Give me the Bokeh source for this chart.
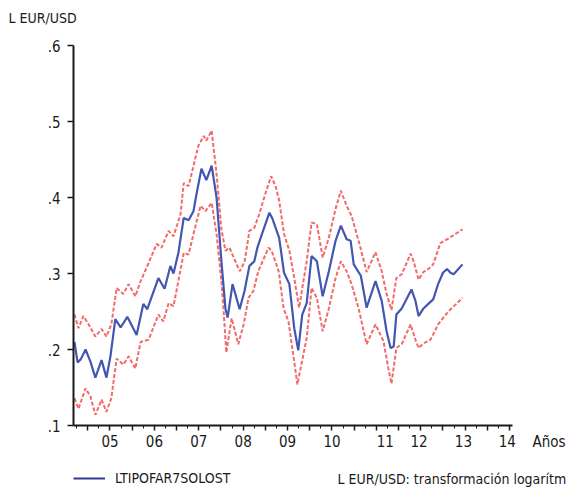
from bokeh.plotting import figure
from bokeh.layouts import column
from bokeh.models import (FixedTicker, CustomJSTickFormatter, Legend,
                          LegendItem, Range1d, LinearAxis, Label)
from bokeh.embed import file_html
from bokeh.resources import INLINE

FONT = "DejaVu Sans Condensed"

# --- data (decimal years) ---
center_x = [2004.20, 2004.27, 2004.34, 2004.45, 2004.56, 2004.67, 2004.81, 2004.92,
            2005.01, 2005.12, 2005.24, 2005.39, 2005.60, 2005.75, 2005.84, 2006.09,
            2006.23, 2006.36, 2006.43, 2006.54, 2006.66, 2006.77, 2006.88, 2006.95,
            2007.06, 2007.17, 2007.29, 2007.40, 2007.51, 2007.60, 2007.65, 2007.76,
            2007.92, 2008.03, 2008.14, 2008.25, 2008.32, 2008.43, 2008.59, 2008.66,
            2008.81, 2008.92, 2009.04, 2009.15, 2009.24, 2009.33, 2009.43, 2009.54,
            2009.66, 2009.79, 2009.93, 2010.08, 2010.20, 2010.33, 2010.42, 2010.49,
            2010.65, 2010.78, 2010.98, 2011.12, 2011.23, 2011.32, 2011.39, 2011.45,
            2011.57, 2011.66, 2011.79, 2011.88, 2011.95, 2012.06, 2012.17, 2012.28,
            2012.39, 2012.50, 2012.59, 2012.67, 2012.74, 2012.94]
center_y = [0.210, 0.183, 0.187, 0.200, 0.184, 0.163, 0.186, 0.163,
            0.191, 0.240, 0.229, 0.243, 0.219, 0.260, 0.253, 0.294,
            0.280, 0.310, 0.300, 0.327, 0.373, 0.370, 0.382, 0.405,
            0.438, 0.423, 0.442, 0.400, 0.316, 0.254, 0.242, 0.286,
            0.253, 0.277, 0.310, 0.316, 0.334, 0.353, 0.380, 0.372,
            0.347, 0.301, 0.286, 0.228, 0.199, 0.246, 0.261, 0.323,
            0.316, 0.270, 0.303, 0.343, 0.363, 0.345, 0.343, 0.312,
            0.297, 0.255, 0.290, 0.264, 0.224, 0.202, 0.204, 0.246,
            0.254, 0.264, 0.279, 0.264, 0.244, 0.254, 0.260, 0.266,
            0.286, 0.301, 0.306, 0.301, 0.299, 0.312]

upper_x = [2004.20, 2004.29, 2004.40, 2004.52, 2004.67, 2004.81, 2004.92, 2005.03,
           2005.15, 2005.30, 2005.42, 2005.57, 2005.69, 2005.82, 2006.05, 2006.16,
           2006.32, 2006.43, 2006.59, 2006.66, 2006.77, 2006.99, 2007.11, 2007.17,
           2007.29, 2007.40, 2007.51, 2007.60, 2007.69, 2007.92, 2008.03, 2008.14,
           2008.25, 2008.36, 2008.52, 2008.63, 2008.74, 2008.81, 2008.92, 2009.04,
           2009.15, 2009.26, 2009.43, 2009.54, 2009.66, 2009.79, 2009.93, 2010.08,
           2010.20, 2010.33, 2010.44, 2010.60, 2010.78, 2010.98, 2011.12, 2011.23,
           2011.34, 2011.45, 2011.57, 2011.77, 2011.84, 2011.95, 2012.06, 2012.17,
           2012.28, 2012.44, 2012.62, 2012.94]
upper_y = [0.246, 0.228, 0.244, 0.233, 0.217, 0.227, 0.217, 0.233,
           0.281, 0.273, 0.286, 0.270, 0.290, 0.307, 0.339, 0.334,
           0.356, 0.349, 0.378, 0.419, 0.415, 0.468, 0.481, 0.475,
           0.488, 0.431, 0.358, 0.330, 0.334, 0.303, 0.315, 0.356,
           0.360, 0.378, 0.409, 0.428, 0.413, 0.396, 0.352, 0.330,
           0.294, 0.255, 0.316, 0.367, 0.365, 0.321, 0.347, 0.385,
           0.409, 0.389, 0.376, 0.343, 0.302, 0.328, 0.303, 0.273,
           0.252, 0.294, 0.299, 0.326, 0.316, 0.292, 0.302, 0.306,
           0.312, 0.340, 0.346, 0.358]

lower_x = [2004.20, 2004.29, 2004.45, 2004.56, 2004.67, 2004.81, 2004.92, 2005.03,
           2005.15, 2005.30, 2005.42, 2005.57, 2005.69, 2005.87, 2006.09, 2006.20,
           2006.32, 2006.43, 2006.54, 2006.66, 2006.77, 2006.88, 2007.04, 2007.15,
           2007.29, 2007.40, 2007.51, 2007.56, 2007.62, 2007.74, 2007.89, 2008.01,
           2008.12, 2008.23, 2008.34, 2008.57, 2008.64, 2008.80, 2008.91, 2009.02,
           2009.14, 2009.22, 2009.43, 2009.54, 2009.66, 2009.79, 2009.93, 2010.08,
           2010.20, 2010.33, 2010.44, 2010.60, 2010.78, 2010.98, 2011.16, 2011.27,
           2011.34, 2011.45, 2011.57, 2011.77, 2011.88, 2011.95, 2012.06, 2012.22,
           2012.39, 2012.62, 2012.94]
lower_y = [0.136, 0.122, 0.149, 0.138, 0.114, 0.134, 0.118, 0.136,
           0.188, 0.180, 0.191, 0.175, 0.210, 0.213, 0.246, 0.237,
           0.261, 0.257, 0.290, 0.327, 0.325, 0.352, 0.389, 0.382,
           0.393, 0.352, 0.290, 0.250, 0.196, 0.241, 0.207, 0.233,
           0.268, 0.277, 0.303, 0.334, 0.330, 0.303, 0.254, 0.237,
           0.188, 0.154, 0.215, 0.281, 0.268, 0.224, 0.254, 0.294,
           0.316, 0.303, 0.286, 0.254, 0.207, 0.233, 0.211, 0.175,
           0.155, 0.202, 0.207, 0.233, 0.213, 0.202, 0.208, 0.213,
           0.233, 0.250, 0.268]

# x tick labels and where they sit on the time scale (as in the original)
year_labels = ["05", "06", "07", "08", "09", "10", "11", "12", "13", "14"]
year_label_pos = [2005.0, 2006.0, 2007.0, 2008.0, 2009.0, 2010.0, 2011.2,
                  2011.96, 2012.96, 2013.95]
y_ticks = [0.1, 0.2, 0.3, 0.4, 0.5, 0.6]
y_labels = [".1", ".2", ".3", ".4", ".5", ".6"]

series_name = "LTIPOFAR7SOLOST"
y_title = "L EUR/USD"
x_title = "Años"
x_title_pos = 2014.887
note_text = "L EUR/USD: transformación logarítmica"

TXT = "#1a1a1a"
BLUE = "#4356b1"
KEY_BLUE = "#2e3a96"
RED = "#f26a6a"

axis_start, axis_end = 2004.178, 2014.065
frame_end = 2015.282

# --- top strip: y-axis title ---
top = figure(width=566, height=30, output_backend="svg", toolbar_location=None,
             x_axis_type=None, y_axis_type=None, min_border=0, frame_align=False,
             x_range=Range1d(0, 1), y_range=Range1d(0, 1))
top.outline_line_color = None
top.grid.visible = False
top.add_layout(Label(x=8, y=13, x_units="screen", y_units="screen", text=y_title,
                     text_baseline="middle", text_font=FONT, text_font_size="14px",
                     text_color=TXT))

# --- main chart ---
p = figure(width=566, height=431, output_backend="svg", toolbar_location=None,
           x_range=Range1d(axis_start, frame_end), y_range=Range1d(0.1, 0.6),
           min_border_left=73, min_border_right=0, min_border_top=15,
           min_border_bottom=36, frame_align=False)
p.outline_line_color = None
p.grid.visible = False
p.background_fill_color = "white"

half_ticks = [2004.5 + 0.5 * k for k in range(20)]
quarter_ticks = [2004.25 + 0.25 * k for k in range(40)]

# x axis: line and tick marks only
xa = p.xaxis[0]
xa.bounds = (axis_start, axis_end)
xa.ticker = FixedTicker(ticks=half_ticks, minor_ticks=quarter_ticks)
xa.formatter = CustomJSTickFormatter(code="return '';")
xa.major_tick_in = 0
xa.major_tick_out = 5
xa.minor_tick_in = 0
xa.minor_tick_out = 3
xa.major_label_standoff = 0
xa.major_label_text_font_size = "1px"
xa.axis_line_width = 2
xa.axis_line_color = TXT
xa.major_tick_line_color = TXT
xa.minor_tick_line_color = TXT
xa.major_tick_line_width = 1.5

# year labels and "Años": a second, line-less axis stacked right under it
xl = LinearAxis(ticker=FixedTicker(ticks=year_label_pos + [x_title_pos], minor_ticks=[]),
                formatter=CustomJSTickFormatter(args=dict(labels=year_labels + [x_title]),
                                                code="return labels[index];"),
                axis_line_color=None, major_tick_line_color=None,
                minor_tick_line_color=None, major_tick_in=0, major_tick_out=0,
                minor_tick_in=0, minor_tick_out=0, major_label_standoff=2,
                major_label_text_font=FONT, major_label_text_font_size="15px",
                major_label_text_color=TXT)
p.add_layout(xl, "below")

ya = p.yaxis[0]
ya.ticker = FixedTicker(ticks=y_ticks, minor_ticks=[])
ya.formatter = CustomJSTickFormatter(args=dict(labels=y_labels),
                                     code="return labels[index];")
ya.major_tick_in = 0
ya.major_tick_out = 6
ya.major_label_standoff = 7
ya.axis_line_width = 2
ya.axis_line_color = TXT
ya.major_tick_line_color = TXT
ya.major_tick_line_width = 1.5
ya.major_label_text_font = FONT
ya.major_label_text_font_size = "15px"
ya.major_label_text_color = TXT

p.line(upper_x, upper_y, line_color=RED, line_width=2, line_dash="4 2")
p.line(lower_x, lower_y, line_color=RED, line_width=2, line_dash="4 2")
p.line(center_x, center_y, line_color=BLUE, line_width=2.2)

# --- bottom strip: legend ---
q = figure(width=566, height=30, output_backend="svg", toolbar_location=None,
           x_axis_type=None, y_axis_type=None, min_border=0, frame_align=False,
           x_range=Range1d(0, 1), y_range=Range1d(0, 1))
q.outline_line_color = None
q.grid.visible = False
r_key = q.line(center_x, center_y, line_color=KEY_BLUE, line_width=2, visible=False)
leg = Legend(items=[LegendItem(label=series_name, renderers=[r_key])],
             location=(73, 5), orientation="horizontal",
             border_line_alpha=0, background_fill_alpha=0, padding=0, margin=0,
             glyph_width=32, glyph_height=16, label_height=16, label_standoff=10,
             inactive_fill_alpha=0, label_text_font=FONT,
             label_text_font_size="14px", label_text_color=TXT)
q.add_layout(leg)
q.add_layout(Label(x=337, y=13, x_units="screen", y_units="screen", text=note_text,
                   text_baseline="middle", text_font=FONT, text_font_size="14px",
                   text_color=TXT))

open("out.html", "w").write(file_html(column(top, p, q, spacing=0), INLINE))
